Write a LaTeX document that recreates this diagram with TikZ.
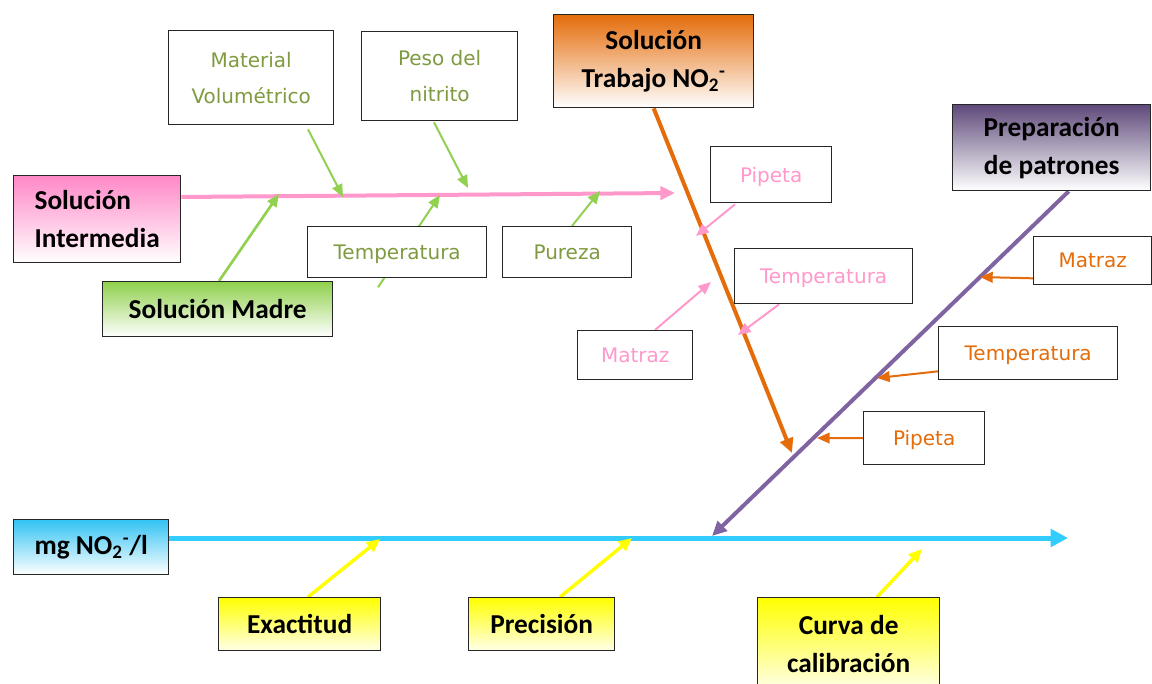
\documentclass[tikz,border=0pt]{standalone}
\usepackage{fontspec}
\setmainfont{Carlito}
\newfontfamily\lblfont{DejaVu Sans}
\usetikzlibrary{arrows.meta}
\pgfdeclarelayer{bg}
\pgfsetlayers{bg,main}
\definecolor{pinkc}{HTML}{FF99CC}
\definecolor{pinktop}{HTML}{FF88C8}
\definecolor{greenc}{HTML}{92D050}
\definecolor{greentxt}{HTML}{7F9B40}
\definecolor{greentop}{HTML}{8FD04C}
\definecolor{orangec}{HTML}{E46C0A}
\definecolor{purplec}{HTML}{8064A2}
\definecolor{purpletop}{HTML}{5F4A7B}
\definecolor{bluec}{HTML}{33CCFF}
\definecolor{bluetop}{HTML}{33C3F3}
\definecolor{yellowc}{HTML}{FFFF00}
\definecolor{yellowbot}{HTML}{FFFFE8}
\begin{document}
\begin{tikzpicture}[x=0.75pt,y=-0.75pt,
  box/.style={draw=black!85, line width=1pt, inner sep=0pt, align=center, anchor=north west},
  big/.style={box, font=\fontsize{20.5}{28.5}\selectfont\bfseries},
  small/.style={box, fill=white, font=\lblfont\fontsize{15}{27}\selectfont},
  one/.style={text depth=0pt},
  sz/.style 2 args={minimum width=#1*0.75pt, minimum height=#2*0.75pt},
  spine/.style={line width=3pt, -{Triangle[length=11pt,width=10pt]}},
  thin/.style={line width=1.5pt, -{Triangle[length=9.5pt,width=8pt]}},
  yarrow/.style={line width=2.6pt, yellowc, -{Triangle[length=10pt,width=9pt]}}]
\useasboundingbox (0,0) rectangle (1152,684);
\clip (0,0) rectangle (1152,684);

% main boxes
\node[big, sz={167}{87}, top color=pinktop, bottom color=white, align=left] (si) at (13,175) {Solución\\Intermedia};
\node[big, sz={230}{55}, top color=greentop, bottom color=white] (sm) at (102,281) {Solución Madre};
\node[big, sz={200}{93}, top color=orangec, bottom color=white] (st) at (553,14) {Solución\\Trabajo NO\textsubscript{2}\textsuperscript{-}};
\node[big, sz={198}{86}, top color=purpletop, bottom color=white] (pp) at (952,104) {Preparación\\de patrones};
\node[big, sz={155}{55}, top color=bluetop, bottom color=white] (mg) at (13,519) {mg NO\textsubscript{2}\textsuperscript{-}/l};
\node[big, sz={162}{53}, top color=yellowc, bottom color=yellowbot] (ex) at (218,597) {Exactitud};
\node[big, sz={146}{53}, top color=yellowc, bottom color=yellowbot] (pr) at (468,597) {Precisión};
\node[big, sz={182}{92}, top color=yellowc, bottom color=yellowbot] (cc) at (757,597) {Curva de\\calibración};

% small boxes
\node[small, sz={165}{94}, text=greentxt] (mv) at (168,30) {Material\\Volumétrico};
\node[small, sz={156}{89}, text=greentxt] (pn) at (361,31) {Peso del\\nitrito};
\node[small, one, sz={179}{51}, text=greentxt] (tg) at (307,226) {Temperatura};
\node[small, one, sz={129}{51}, text=greentxt] (pu) at (502,226) {Pureza};
\node[small, one, sz={121}{56}, text=pinkc] (pip) at (710,146) {Pipeta};
\node[small, one, sz={178}{55}, text=pinkc] (tp) at (734,248) {Temperatura};
\node[small, one, sz={115}{49}, text=pinkc] (mp) at (577,330) {Matraz};
\node[small, one, sz={118}{48}, text=orangec] (mo) at (1033,236) {Matraz};
\node[small, one, sz={179}{53}, text=orangec] (to) at (938,326) {Temperatura};
\node[small, one, sz={121}{53}, text=orangec] (po) at (863,411) {Pipeta};

% spine end points
\coordinate (pinkEnd) at (675,193);
\coordinate (orEnd) at (792,453);
\coordinate (puEnd) at (712,536);
\coordinate (blEnd) at (1068,538);
\coordinate (g1) at (343,197);
\coordinate (g2) at (468,188);
\coordinate (g3) at (279,194);
\coordinate (g4) at (440,195);
\coordinate (g5) at (600,191);
\coordinate (p1) at (696,236);
\coordinate (p2) at (711,282);
\coordinate (p3) at (738,335);
\coordinate (o1) at (980,277);
\coordinate (o2) at (877,378);
\coordinate (o3) at (817,438);
\coordinate (y1) at (380,539);
\coordinate (y2) at (632,538);
\coordinate (y3) at (922,549);

\begin{pgfonlayer}{bg}
\draw[spine, pinkc] (si.north east) ++(0,22) -- (pinkEnd);
\draw[spine, orangec] (st.south) -- (orEnd);
\draw[spine, purplec] (pp.south) ++(17,0) -- (puEnd);
\draw[spine, bluec, line width=3.75pt, -{Triangle[length=13pt,width=13pt]}] (mg.north east) ++(0,19) -- (blEnd);

\draw[thin, greenc] (mv.south west) ++(140,4) -- (g1);
\draw[thin, greenc] (pn.south west) ++(73,1) -- (g2);
\draw[thin, greenc, line width=2pt] (sm.north west) ++(117,0) -- (g3);
\draw[thin, greenc] (tg.south west) ++(71,9) -- (g4);
\draw[thin, greenc] (pu.north west) ++(70,0) -- (g5);

\draw[thin, pinkc] (pip.south west) ++(25,1) -- (p1);
\draw[thin, pinkc] (mp.north west) ++(78,0) -- (p2);
\draw[thin, pinkc] (tp.south west) ++(45,0) -- (p3);

\draw[thin, orangec] (mo.south west) ++(0,-7) -- (o1);
\draw[thin, orangec] (to.south west) ++(0,-9) -- (o2);
\draw[thin, orangec] (po.west) -- (o3);

\draw[yarrow] (ex.north west) ++(90,0) -- (y1);
\draw[yarrow] (pr.north west) ++(92,0) -- (y2);
\draw[yarrow] (cc.north west) ++(120,0) -- (y3);
\end{pgfonlayer}
\end{tikzpicture}
\end{document}
